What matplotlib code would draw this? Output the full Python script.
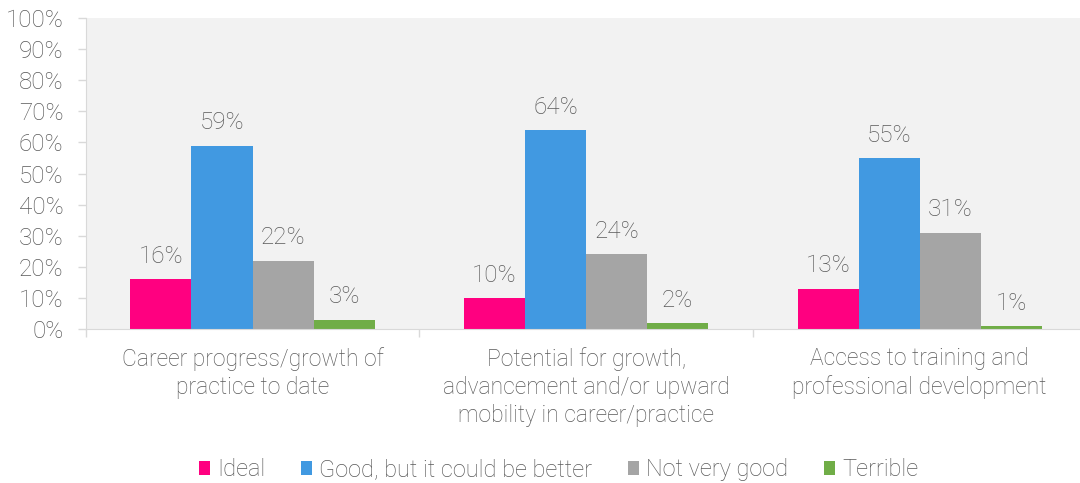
import matplotlib.pyplot as plt
import numpy as np

categories = [
    'Career progress/growth of\npractice to date',
    'Potential for growth,\nadvancement and/or upward\nmobility in career/practice',
    'Access to training and\nprofessional development',
]
series = ['Ideal', 'Good, but it could be better', 'Not very good', 'Terrible']
values = [
    [16, 10, 13],
    [59, 64, 55],
    [22, 24, 31],
    [3, 2, 1],
]
colors = ['#FF0080', '#4199E1', '#A5A5A5', '#70AD47']
text_color = '#595959'

plt.rcParams['font.family'] = ['Roboto', 'DejaVu Sans']
plt.rcParams['font.weight'] = 'light'

fig = plt.figure(figsize=(10.8, 4.83), dpi=100)
ax = fig.add_axes([0.0794, 0.3188, 0.9266, 0.6439])
ax.set_facecolor('#F2F2F2')

x = np.arange(len(categories))
width = 0.183
offsets = (np.arange(len(series)) - 1.5) * width
for vals, off, col, name in zip(values, offsets, colors, series):
    bars = ax.bar(x + off, vals, width, color=col, label=name, zorder=2)
    for b, v in zip(bars, vals):
        ax.text(b.get_x() + b.get_width() / 2, v + 3.6, f'{v}%',
                ha='center', va='bottom', fontsize=17.5, color=text_color)

ax.set_xlim(-0.5, len(categories) - 0.5)
ax.set_ylim(0, 100)
ax.set_yticks(np.arange(0, 101, 10))
ax.set_yticklabels([f'{t}%' for t in range(0, 101, 10)])
ax.tick_params(axis='y', labelsize=17.5, colors='#D9D9D9', labelcolor=text_color,
               length=6, width=1, pad=10)

# category labels in the middle, separator ticks at group boundaries
ax.set_xticks(x)
ax.set_xticklabels(categories, linespacing=1.28)
ax.tick_params(axis='x', which='major', length=0, labelsize=16.5, labelcolor=text_color, pad=13)
ax.set_xticks(np.arange(len(categories) + 1) - 0.5, minor=True)
ax.tick_params(axis='x', which='minor', length=6, color='#D9D9D9', width=1)

for s in ['top', 'right']:
    ax.spines[s].set_visible(False)
for s in ['left', 'bottom']:
    ax.spines[s].set_color('#D9D9D9')

leg = fig.legend(loc='center', bbox_to_anchor=(0.517, 0.027), ncol=4, frameon=False,
                 fontsize=17, handlelength=0.48, handleheight=0.48, handletextpad=0.3,
                 columnspacing=1.5)
for t in leg.get_texts():
    t.set_color(text_color)

fig.savefig('out.png', dpi=100)
